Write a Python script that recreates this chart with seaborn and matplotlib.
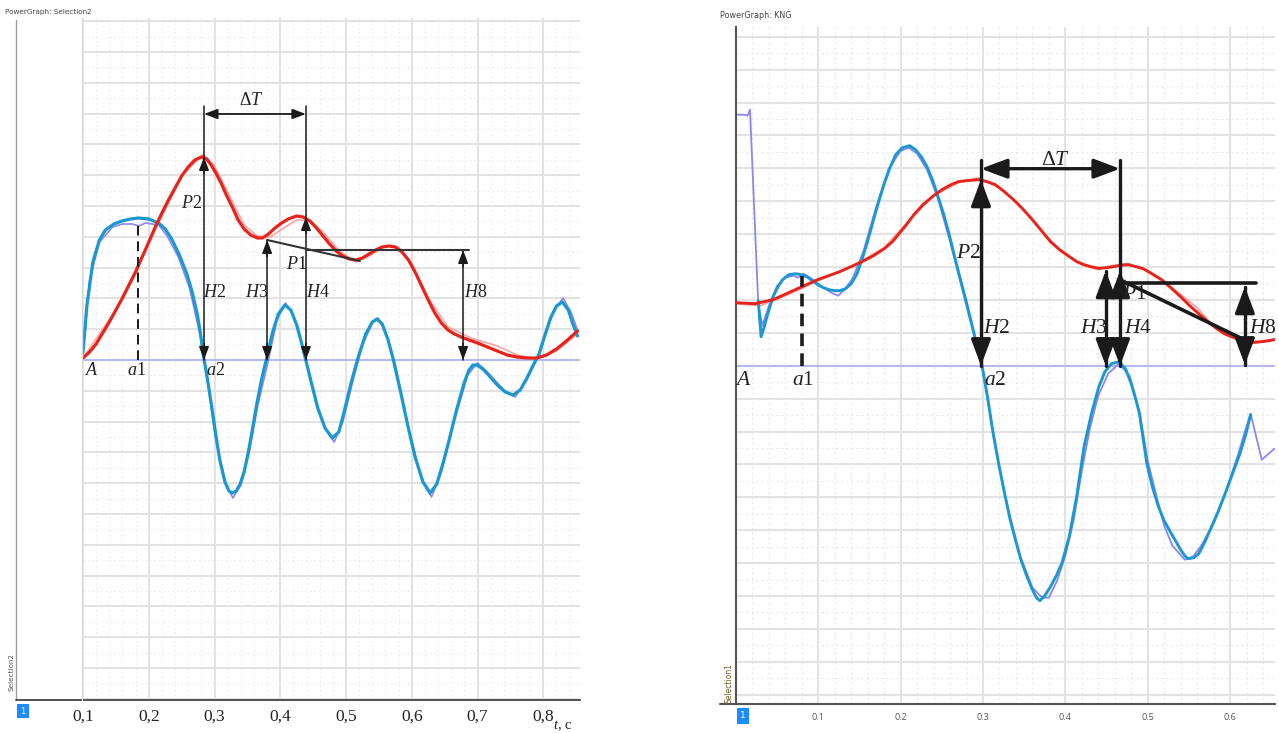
import numpy as np
import pandas as pd
import matplotlib
matplotlib.use("Agg")
import matplotlib.pyplot as plt
from matplotlib.ticker import MultipleLocator, FixedLocator, FuncFormatter, NullFormatter
import seaborn as sns

# ---------------- data ----------------
# Left panel ("Selection2"): time in s, signal in arbitrary units (baseline = 0)
left_blue_t = [0.100, 0.106, 0.115, 0.125, 0.134, 0.147, 0.159, 0.172, 0.184, 0.200, 0.215, 0.225,
               0.234, 0.246, 0.258, 0.266, 0.274, 0.279, 0.283, 0.290, 0.296, 0.302, 0.308, 0.316,
               0.322, 0.327, 0.333, 0.339, 0.345, 0.352, 0.358, 0.364, 0.372, 0.380, 0.388, 0.397,
               0.407, 0.416, 0.425, 0.432, 0.438, 0.447, 0.457, 0.468, 0.479, 0.489, 0.497, 0.508,
               0.519, 0.530, 0.540, 0.547, 0.555, 0.564, 0.572, 0.583, 0.594, 0.605, 0.617, 0.628,
               0.638, 0.648, 0.656, 0.668, 0.680, 0.687, 0.693, 0.699, 0.708, 0.718, 0.730, 0.742,
               0.754, 0.765, 0.775, 0.784, 0.793, 0.802, 0.811, 0.820, 0.829, 0.838, 0.845, 0.852]
left_blue_v = [8, 55, 98, 120, 130, 136, 139, 141, 142, 141, 137, 131,
               122, 106, 86, 68, 45, 25, 5, -22, -48, -75, -100, -122,
               -131, -133, -131, -124, -112, -90, -68, -45, -18, 4, 27, 46,
               55, 50, 35, 18, 2, -22, -48, -68, -78, -72, -52, -22,
               4, 26, 38, 41, 36, 20, 0, -32, -66, -97, -122, -133,
               -124, -102, -82, -50, -22, -10, -5, -5, -9, -16, -25, -32,
               -35, -30, -18, -6, 5, 24, 42, 54, 58, 50, 36, 24]

left_red_t = [0.100, 0.110, 0.120, 0.130, 0.140, 0.150, 0.160, 0.170, 0.180, 0.190, 0.200, 0.210,
              0.220, 0.230, 0.240, 0.250, 0.260, 0.270, 0.280, 0.288, 0.295, 0.302, 0.310, 0.318,
              0.327, 0.336, 0.345, 0.355, 0.365, 0.373, 0.382, 0.392, 0.402, 0.412, 0.425, 0.435,
              0.445, 0.455, 0.465, 0.475, 0.485, 0.495, 0.505, 0.515, 0.525, 0.535, 0.545, 0.555,
              0.565, 0.575, 0.585, 0.595, 0.605, 0.615, 0.625, 0.635, 0.645, 0.655, 0.665, 0.675,
              0.687, 0.700, 0.715, 0.730, 0.745, 0.760, 0.775, 0.790, 0.805, 0.820, 0.835, 0.852]
left_red_v = [2, 8, 16, 27, 38, 50, 62, 75, 88, 103, 118, 133,
              147, 160, 172, 184, 193, 200, 203, 201, 195, 187, 177, 165,
              153, 140, 131, 125, 122, 122, 126, 132, 137, 141, 144, 143,
              139, 132, 124, 116, 109, 104, 101, 100, 102, 106, 110, 113,
              114, 113, 108, 100, 88, 74, 60, 47, 37, 30, 26, 23,
              20, 17, 13, 9, 5, 3, 2, 2, 5, 11, 19, 29]

left_raw_blue_t = [0.100, 0.110, 0.125, 0.145, 0.160, 0.175, 0.185, 0.195, 0.205, 0.215, 0.228, 0.245,
                   0.262, 0.278, 0.290, 0.302, 0.315, 0.328, 0.340, 0.352, 0.366, 0.382, 0.395, 0.408,
                   0.420, 0.437, 0.455, 0.470, 0.482, 0.495, 0.510, 0.525, 0.540, 0.549, 0.560, 0.575,
                   0.595, 0.615, 0.630, 0.645, 0.665, 0.685, 0.700, 0.715, 0.740, 0.757, 0.775, 0.795,
                   0.815, 0.830, 0.842, 0.852]
left_raw_blue_v = [5, 80, 118, 133, 136, 136, 134, 137, 136, 135, 124, 103,
                   72, 25, -25, -80, -122, -138, -125, -95, -45, 0, 40, 57,
                   45, 5, -45, -70, -82, -62, -22, 15, 37, 42, 28, -5,
                   -68, -120, -137, -112, -60, -15, -3, -12, -30, -37, -20, 8,
                   48, 62, 48, 30]

left_raw_red_t = [0.100, 0.150, 0.200, 0.250, 0.283, 0.300, 0.320, 0.345, 0.365, 0.385, 0.405, 0.425,
                  0.445, 0.465, 0.490, 0.515, 0.535, 0.560, 0.580, 0.600, 0.625, 0.655, 0.690, 0.730,
                  0.760, 0.790, 0.820, 0.852]
left_raw_red_v = [2, 50, 117, 184, 206, 194, 168, 135, 124, 123, 132, 140,
                  140, 128, 109, 98, 104, 114, 113, 96, 62, 33, 22, 14,
                  5, 1, 9, 26]

# Right panel ("KNG")
right_blue_t = [0.027, 0.0305, 0.034, 0.0386, 0.045, 0.051, 0.0566, 0.064, 0.0723, 0.079, 0.086, 0.093,
                0.0993, 0.106, 0.113, 0.120, 0.126, 0.133, 0.140, 0.147, 0.153, 0.160, 0.167, 0.174,
                0.180, 0.187, 0.194, 0.202, 0.211, 0.218, 0.225, 0.232, 0.2385, 0.245, 0.252, 0.259,
                0.2655, 0.272, 0.279, 0.285, 0.290, 0.295, 0.299, 0.306, 0.312, 0.319, 0.326, 0.333,
                0.340, 0.346, 0.353, 0.360, 0.365, 0.369, 0.375, 0.382, 0.389, 0.3956, 0.4047, 0.4137,
                0.4227, 0.4317, 0.4407, 0.448, 0.456, 0.465, 0.473, 0.480, 0.4856, 0.490, 0.499, 0.506,
                0.513, 0.520, 0.526, 0.533, 0.540, 0.545, 0.549, 0.556, 0.562, 0.569, 0.576, 0.585,
                0.594, 0.603, 0.612, 0.619, 0.625]
right_blue_v = [65, 29, 38, 52, 69, 79, 86, 91, 92, 91, 89, 85,
                81, 78, 76, 75, 75, 77, 82, 92, 106, 125, 146, 166,
                182, 198, 211, 218, 220, 216, 209, 199, 186, 170, 152, 131,
                109, 88, 66, 46, 29, 12, -1, -34, -66, -98, -127, -154,
                -176, -194, -210, -224, -232, -235, -230, -221, -210, -198, -171, -131,
                -81, -48, -21, -6, 2, 4, -3, -18, -34, -48, -98, -122,
                -141, -155, -164, -174, -184, -190, -193, -192, -188, -177, -164, -147,
                -128, -108, -88, -69, -49]

right_red_t = [0.000, 0.023, 0.045, 0.072, 0.099, 0.126, 0.153, 0.167, 0.180, 0.190, 0.198, 0.207,
               0.216, 0.227, 0.2385, 0.250, 0.261, 0.270, 0.279, 0.2947, 0.305, 0.315, 0.326, 0.337,
               0.348, 0.360, 0.371, 0.382, 0.393, 0.405, 0.414, 0.4227, 0.431, 0.4407, 0.450, 0.4587,
               0.468, 0.4766, 0.486, 0.4946, 0.505, 0.517, 0.528, 0.540, 0.551, 0.562, 0.573, 0.584,
               0.593, 0.602, 0.611, 0.620, 0.629, 0.638, 0.647, 0.654]
right_red_v = [63, 62, 66, 76, 86, 94, 104, 110, 117, 124, 132, 141,
               151, 161, 169, 176, 181, 184, 185, 186, 184, 181, 174, 166,
               157, 146, 135, 124, 116, 109, 104, 101, 99, 97.4, 98, 99,
               100.5, 101, 99, 97, 92, 86, 78, 69, 60, 52, 44, 37,
               32, 29, 26, 24, 23.5, 24, 25, 26]

right_raw_blue_t = [0.000, 0.010, 0.014, 0.017, 0.027, 0.032, 0.040, 0.050, 0.060, 0.070, 0.075, 0.082,
                    0.090, 0.100, 0.110, 0.118, 0.124, 0.132, 0.142, 0.155, 0.170, 0.185, 0.200, 0.210,
                    0.220, 0.232, 0.245, 0.260, 0.275, 0.290, 0.300, 0.315, 0.330, 0.345, 0.360, 0.372,
                    0.380, 0.390, 0.400, 0.410, 0.420, 0.430, 0.440, 0.452, 0.465, 0.478, 0.490, 0.500,
                    0.510, 0.520, 0.530, 0.545, 0.555, 0.565, 0.580, 0.595, 0.610, 0.618, 0.625, 0.6385,
                    0.654]
right_raw_blue_v = [251, 251, 250, 256, 62, 40, 60, 80, 88, 90, 88, 92,
                    88, 82, 76, 72, 70, 76, 88, 115, 158, 196, 215, 218,
                    212, 196, 168, 124, 76, 28, -5, -82, -142, -190, -222, -232,
                    -232, -215, -190, -155, -105, -62, -30, -8, 2, -10, -46, -95,
                    -128, -160, -180, -194, -191, -180, -158, -126, -88, -66, -48, -94,
                    -83]

right_raw_red_t = [0.000, 0.030, 0.060, 0.100, 0.140, 0.180, 0.210, 0.240, 0.270, 0.295, 0.320, 0.345,
                   0.370, 0.395, 0.420, 0.440, 0.455, 0.475, 0.500, 0.520, 0.545, 0.560, 0.575, 0.590,
                   0.610, 0.625, 0.640, 0.654]
right_raw_red_v = [62, 60, 70, 85, 99, 118, 145, 170, 183, 188, 178, 160,
                   136, 114, 101, 96, 100, 102, 95, 84, 68, 58, 44, 37,
                   30, 22, 24, 27]

left_tick_values = [0.1, 0.2, 0.3, 0.4, 0.5, 0.6, 0.7, 0.8]
left_tick_labels = ["0,1", "0,2", "0,3", "0,4", "0,5", "0,6", "0,7", "0,8"]
right_tick_values = [0.1, 0.2, 0.3, 0.4, 0.5, 0.6]
right_tick_labels = ["0.1", "0.2", "0.3", "0.4", "0.5", "0.6"]

# ---------------- style ----------------
sns.set_style("white")
plt.rcParams["font.family"] = ["DejaVu Sans"]
plt.rcParams["mathtext.fontset"] = "custom"
plt.rcParams["mathtext.rm"] = "Liberation Serif"
plt.rcParams["mathtext.it"] = "Liberation Serif:italic"
plt.rcParams["mathtext.bf"] = "Liberation Serif:bold"

RED = "#e8231b"
BLUE = "#1b98d2"
RAW_BLUE = "#8b86f2"
RAW_RED = "#f7a3a3"
BASE = "#b3b5f5"
INK = "#1a1a1a"

W, H = 1279, 733
fig = plt.figure(figsize=(W / 100, H / 100), dpi=100)
fig.patch.set_facecolor("white")


def fx(px):
    return px / W


def fy(py):
    return 1 - py / H


# ---------------- left panel ----------------
axL = fig.add_axes([fx(83), fy(700), fx(580) - fx(83), fy(18) - fy(700)])
axL.set_xlim(0.1, 0.1 + 497 / 657.6)
axL.set_ylim(-340, 342)
axL.xaxis.set_major_locator(FixedLocator(left_tick_values))
axL.xaxis.set_minor_locator(MultipleLocator(0.02))
axL.yaxis.set_major_locator(MultipleLocator(30.8))
axL.yaxis.set_minor_locator(MultipleLocator(15.4))
axL.grid(True, which="major", color="#e2e2e2", lw=1.4)
axL.grid(True, which="minor", color="#ececec", lw=0.8, ls=(0, (1.5, 2.5)))
axL.set_axisbelow(True)
axL.set_xticks(left_tick_values)
axL.set_xticklabels(left_tick_labels, fontfamily="Liberation Serif", fontsize=12.5)
axL.yaxis.set_major_formatter(NullFormatter())
axL.tick_params(axis="y", which="both", length=0)
axL.tick_params(axis="x", which="major", direction="inout", length=9, width=1.2, color="#444",
                pad=2, labelcolor="#222")
axL.tick_params(axis="x", which="minor", direction="out", length=4, width=1.0, color="#444")
for s in ["left", "right", "top"]:
    axL.spines[s].set_visible(False)
axL.spines["bottom"].set_color("#444")
axL.spines["bottom"].set_linewidth(1.3)

axL.axhline(0, color=BASE, lw=1.3, zorder=1)
sns.lineplot(x=left_raw_blue_t, y=left_raw_blue_v, ax=axL, color=RAW_BLUE, lw=1.2,
             estimator=None, sort=False, zorder=2)
sns.lineplot(x=left_raw_red_t, y=left_raw_red_v, ax=axL, color=RAW_RED, lw=1.2,
             estimator=None, sort=False, zorder=2)
sns.lineplot(x=left_blue_t, y=left_blue_v, ax=axL, color=BLUE, lw=2.3,
             estimator=None, sort=False, zorder=3)
sns.lineplot(x=left_red_t, y=left_red_v, ax=axL, color=RED, lw=2.3,
             estimator=None, sort=False, zorder=4)
axL.set_xlabel("")
axL.set_ylabel("")


def head(ax, t, v, up, hl, hw, lw, scale):
    ax.annotate("", xy=(t, v), xytext=(0, -12 if up else 12), textcoords="offset points",
                arrowprops=dict(arrowstyle=f"-|>,head_length={hl},head_width={hw}",
                                color=INK, lw=lw, shrinkA=0, shrinkB=0, mutation_scale=scale),
                zorder=6)


# annotations (left)
lw_l = 1.1
axL.plot([0.184, 0.184], [0, 135], color=INK, lw=1.4, ls=(0, (5, 3)), zorder=5)
axL.plot([0.284, 0.284], [0, 254], color=INK, lw=lw_l, zorder=5)
axL.plot([0.439, 0.439], [0, 254], color=INK, lw=lw_l, zorder=5)
axL.plot([0.380, 0.380], [0, 120], color=INK, lw=lw_l, zorder=5)
axL.plot([0.678, 0.678], [0, 110], color=INK, lw=lw_l, zorder=5)
axL.plot([0.380, 0.521], [120, 99], color="#333", lw=1.5, zorder=5)
axL.plot([0.439, 0.687], [110, 110], color="#333", lw=1.5, zorder=5)
for (t, v, up) in [(0.284, 203, True), (0.284, 0, False), (0.439, 143, True), (0.439, 0, False),
                   (0.380, 120, True), (0.380, 0, False), (0.678, 110, True), (0.678, 0, False)]:
    head(axL, t, v, up, 0.8, 0.3, lw_l, 10)
axL.annotate("", xy=(0.439, 246), xytext=(0.284, 246),
             arrowprops=dict(arrowstyle="<|-|>,head_length=0.8,head_width=0.3", color=INK,
                             lw=1.3, shrinkA=0, shrinkB=0, mutation_scale=10), zorder=6)

lab_l = 13
for (txt, t, v) in [(r"$\Delta T$", 0.3565, 260), (r"$P2$", 0.265, 157), (r"$P1$", 0.425, 96),
                    (r"$H2$", 0.3007, 68), (r"$H3$", 0.3646, 68), (r"$H4$", 0.457, 68),
                    (r"$H8$", 0.6976, 68), (r"$A$", 0.1137, -10), (r"$a1$", 0.182, -10),
                    (r"$a2$", 0.302, -10)]:
    axL.text(t, v, txt, fontsize=lab_l, ha="center", va="center", color="#222", zorder=7)

# left-side frame pieces
fig.add_artist(plt.Line2D([fx(16), fx(16)], [fy(20), fy(700)], color="#9a9a9a", lw=1.0))
fig.add_artist(plt.Line2D([fx(16), fx(83)], [fy(700), fy(700)], color="#444", lw=1.3))
fig.add_artist(plt.Line2D([fx(82), fx(82)], [fy(18), fy(700)], color="#dcdcdc", lw=1.0))
fig.text(fx(5), fy(12), "PowerGraph: Selection2", fontsize=5.2, color="#444", va="center")
fig.text(fx(12), fy(672), "Selection2", fontsize=5.2, color="#555", rotation=90,
         ha="center", va="center")
fig.text(fx(23), fy(711), "1", fontsize=6, color="white", ha="center", va="center",
         bbox=dict(boxstyle="square,pad=0.35", fc="#1a8cff", ec="none"))
fig.text(fx(563), fy(726), r"$t$, c", fontsize=10.5, ha="center", va="center", color="#222",
         fontfamily="Liberation Serif")

# ---------------- right panel ----------------
axR = fig.add_axes([fx(736), fy(704), fx(1275) - fx(736), fy(27) - fy(704)])
axR.set_xlim(0, 0.6546)
axR.set_ylim(-338.3, 338.7)
axR.xaxis.set_major_locator(FixedLocator(right_tick_values))
axR.xaxis.set_minor_locator(MultipleLocator(0.02))
axR.yaxis.set_major_locator(MultipleLocator(32.9))
axR.yaxis.set_minor_locator(MultipleLocator(16.45))
axR.grid(True, which="major", color="#e3e3e3", lw=1.5)
axR.grid(True, which="minor", color="#e8e8e8", lw=0.9, ls=(0, (1.5, 2.5)))
axR.set_axisbelow(True)
axR.set_xticks(right_tick_values)
axR.set_xticklabels(right_tick_labels, fontfamily="Open Sans", fontsize=6.5)
axR.yaxis.set_major_formatter(NullFormatter())
axR.tick_params(axis="y", which="both", length=0)
axR.tick_params(axis="x", which="major", direction="inout", length=7, width=1.0, color="#555",
                pad=3, labelcolor="#555")
axR.tick_params(axis="x", which="minor", direction="out", length=3.5, width=1.0, color="#555")
for s in ["right", "top"]:
    axR.spines[s].set_visible(False)
for s in ["left", "bottom"]:
    axR.spines[s].set_color("#555")
    axR.spines[s].set_linewidth(1.5)

axR.axhline(0, color=BASE, lw=1.3, zorder=1)
sns.lineplot(x=right_raw_blue_t, y=right_raw_blue_v, ax=axR, color=RAW_BLUE, lw=1.3,
             estimator=None, sort=False, zorder=2)
sns.lineplot(x=right_raw_red_t, y=right_raw_red_v, ax=axR, color=RAW_RED, lw=1.3,
             estimator=None, sort=False, zorder=2)
sns.lineplot(x=right_blue_t, y=right_blue_v, ax=axR, color=BLUE, lw=2.1,
             estimator=None, sort=False, zorder=3)
sns.lineplot(x=right_red_t, y=right_red_v, ax=axR, color=RED, lw=2.1,
             estimator=None, sort=False, zorder=4)
axR.set_xlabel("")
axR.set_ylabel("")

lw_r = 2.4
axR.plot([0.080, 0.080], [0, 90], color=INK, lw=2.6, ls=(0, (3.5, 2)), zorder=5)
axR.plot([0.2975, 0.2975], [0, 206], color=INK, lw=lw_r, zorder=5)
axR.plot([0.4664, 0.4664], [0, 206], color=INK, lw=lw_r, zorder=5)
axR.plot([0.449, 0.449], [0, 95], color=INK, lw=lw_r, zorder=5)
axR.plot([0.618, 0.618], [1, 79], color=INK, lw=lw_r, zorder=5)
axR.plot([0.4664, 0.631], [83, 83], color=INK, lw=2.6, zorder=5)
axR.plot([0.4664, 0.612], [86, 28], color=INK, lw=2.6, zorder=5)
for (t, v, up) in [(0.2975, 186, True), (0.2975, 0, False), (0.4664, 95, True), (0.4664, 0, False),
                   (0.449, 95, True), (0.449, 0, False), (0.618, 79, True), (0.618, 1, False)]:
    head(axR, t, v, up, 1.6, 0.6, lw_r, 10)
axR.annotate("", xy=(0.4664, 197), xytext=(0.2975, 197),
             arrowprops=dict(arrowstyle="<|-|>,head_length=1.6,head_width=0.6", color=INK,
                             lw=lw_r, shrinkA=0, shrinkB=0, mutation_scale=10), zorder=6)

lab_r = 15.5
for (txt, t, v) in [(r"$\Delta T$", 0.3875, 207), (r"$P2$", 0.282, 114), (r"$P1$", 0.484, 73),
                    (r"$H2$", 0.316, 39), (r"$H3$", 0.434, 39), (r"$H4$", 0.488, 39),
                    (r"$H8$", 0.640, 39), (r"$A$", 0.0085, -13), (r"$a1$", 0.081, -13),
                    (r"$a2$", 0.315, -13)]:
    axR.text(t, v, txt, fontsize=lab_r, ha="center", va="center", color="#222", zorder=7)

fig.add_artist(plt.Line2D([fx(720), fx(736)], [fy(704), fy(704)], color="#555", lw=1.5))
fig.text(fx(720), fy(15), "PowerGraph: KNG", fontsize=5.8, color="#444", va="center")
fig.text(fx(729), fy(683), "Selection1", fontsize=5.5, color="#6b5a1e", rotation=90,
         ha="center", va="center")
fig.text(fx(743), fy(716), "1", fontsize=6.5, color="white", ha="center", va="center",
         bbox=dict(boxstyle="square,pad=0.4", fc="#1a8cff", ec="none"))

fig.savefig("out.png", dpi=100, facecolor="white")
